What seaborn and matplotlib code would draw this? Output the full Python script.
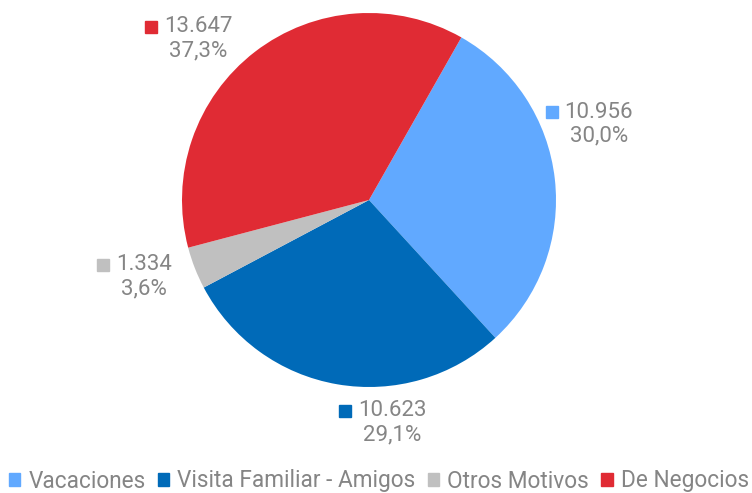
import matplotlib
matplotlib.use("Agg")
import matplotlib.pyplot as plt
import seaborn as sns
import numpy as np

categories = ["Vacaciones", "Visita Familiar - Amigos", "Otros Motivos", "De Negocios"]
values = [10956, 10623, 1334, 13647]
value_labels = ["10.956", "10.623", "1.334", "13.647"]
pct_labels = ["30,0%", "29,1%", "3,6%", "37,3%"]
colors = ["#61a9ff", "#006ab8", "#c0c0c0", "#e02b34"]

sns.set_theme(style="white")
plt.rcParams["font.family"] = ["Roboto", "DejaVu Sans"]

TEXT = "#858585"
FS = 16
W, H = 752, 493
fig = plt.figure(figsize=(W / 100, H / 100), dpi=100)

# pie area: centre and radius in pixels
cx, cy, r = 369, 200, 187
ax = fig.add_axes([(cx - r) / W, (H - cy - r) / H, 2 * r / W, 2 * r / H])

wedges, _ = ax.pie(values, colors=colors, startangle=60.4, counterclock=False,
                   radius=1.0, wedgeprops=dict(linewidth=0))
ax.set_xlim(-1, 1)
ax.set_ylim(-1, 1)
ax.set_aspect("equal")
ax.axis("off")

# label block centres (pixel space) for value / percent pair
label_pos = [(599, 112), (392, 411), (144, 265), (198, 27)]
for (px, py), vtxt, ptxt, col in zip(label_pos, value_labels, pct_labels, colors):
    fx, fy = px / W, 1 - py / H
    t = fig.text(fx, fy, vtxt, ha="center", va="center", fontsize=FS, color=TEXT)
    fig.text(fx, fy - 23.5 / H, ptxt, ha="center", va="center", fontsize=FS, color=TEXT)
    fig.canvas.draw()
    bb = t.get_window_extent()
    sq_x = (bb.x0 - 19) / W
    fig.patches.append(plt.Rectangle((sq_x, fy - 6 / H), 12 / W, 12 / H,
                                     transform=fig.transFigure, color=col, figure=fig))

handles = [plt.Rectangle((0, 0), 1, 1, color=c) for c in colors]
leg = fig.legend(handles, categories, loc="center",
                 bbox_to_anchor=(0.5 + 3 / W, 1 - 481 / H),
                 ncol=4, frameon=False, handlelength=0.5, handleheight=0.5,
                 handletextpad=0.35, columnspacing=0.55, labelcolor=TEXT,
                 prop=dict(size=FS + 0.3))

fig.savefig("out.png", dpi=100)
